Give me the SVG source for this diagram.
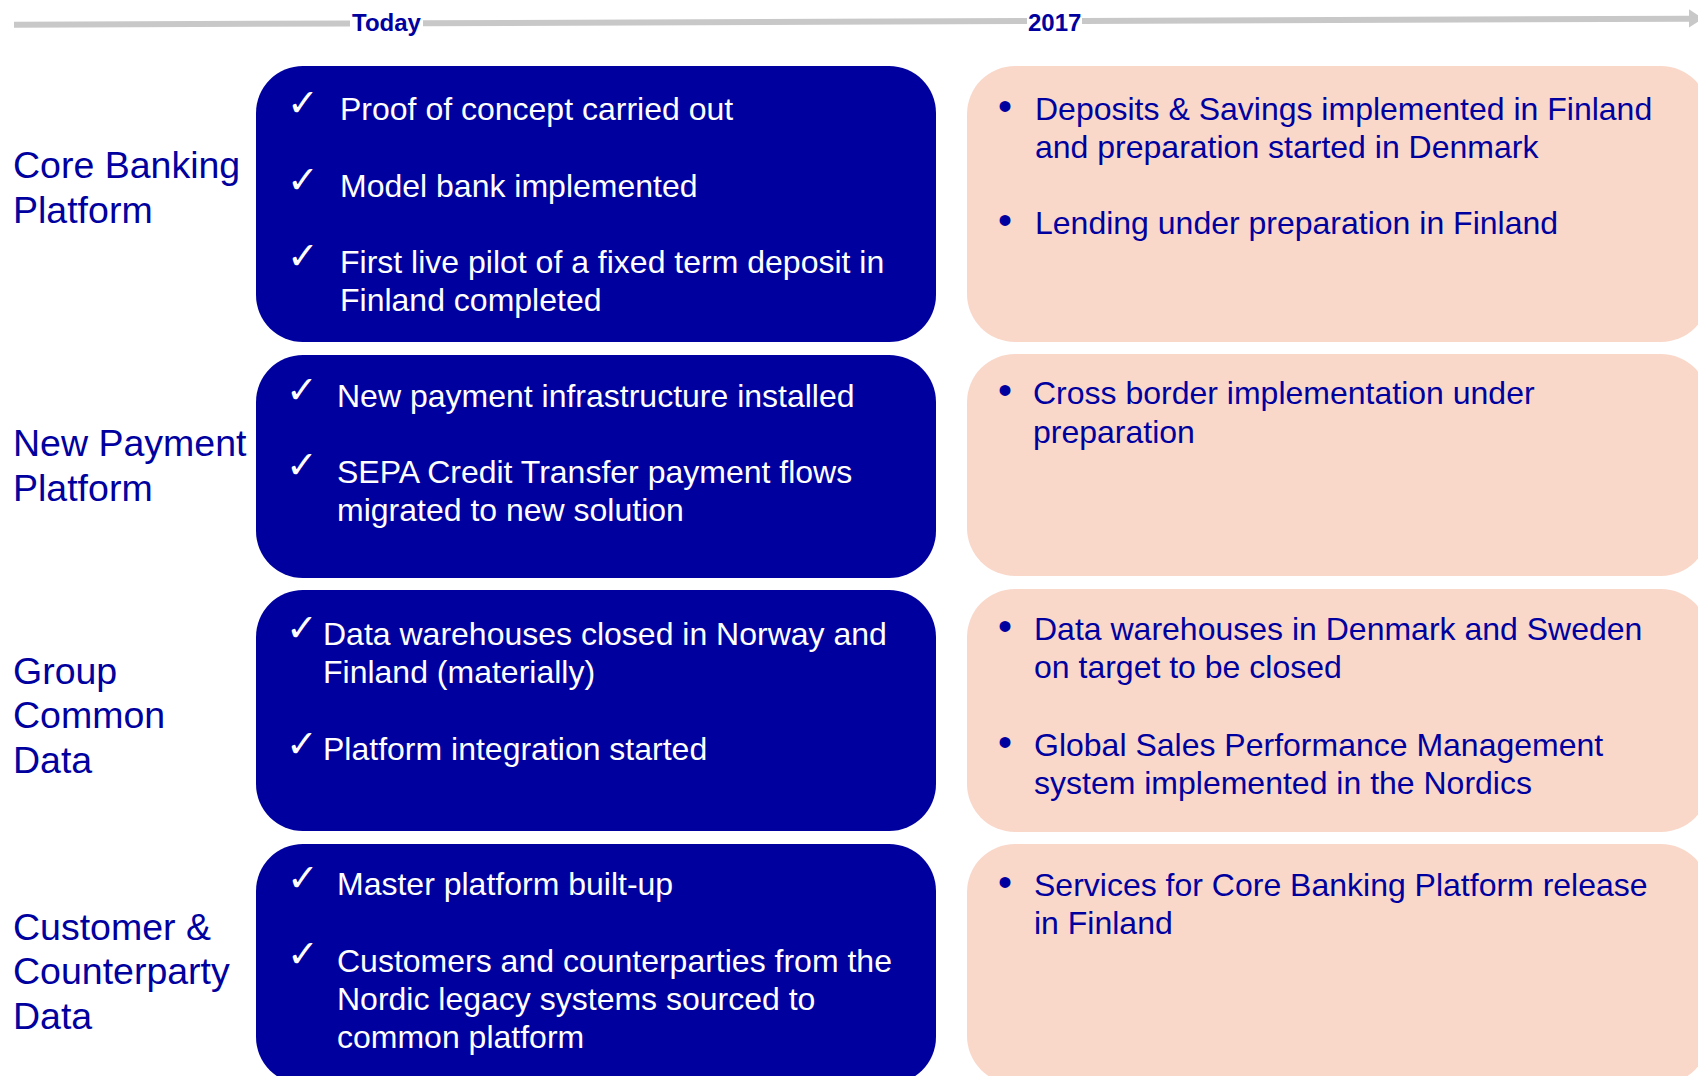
<svg xmlns="http://www.w3.org/2000/svg" width="1698" height="1076" viewBox="0 0 1698 1076">
<style>
  .lbl { font-family: "Liberation Sans", Arial, sans-serif; font-size: 37.5px; fill: #00009F; }
  .wt { font-family: "Liberation Sans", Arial, sans-serif; font-size: 32px; fill: #FFFFFF; }
  .bt { font-family: "Liberation Sans", Arial, sans-serif; font-size: 32px; fill: #00009F; }
  .chk { font-family: "DejaVu Sans", sans-serif; font-size: 38px; fill: #FFFFFF; text-anchor: middle; }
  .bul { font-family: "Liberation Sans", Arial, sans-serif; font-size: 40px; fill: #00009F; text-anchor: middle; }
  .tl { font-family: "Liberation Sans", Arial, sans-serif; font-size: 24px; font-weight: bold; fill: #00009F; }
  .blue { fill: #00009F; }
  .peach { fill: #F9D8CA; }
  .axis { stroke: #C8C8C8; stroke-width: 6; fill: none; }
</style>
<rect width="1698" height="1076" fill="#FFFFFF"/>

<g id="timeline">
  <line class="axis" x1="14" y1="24.7" x2="350" y2="23.5"/>
  <line class="axis" x1="423" y1="23.24" x2="1027" y2="21.07"/>
  <line class="axis" x1="1082" y1="20.88" x2="1690" y2="18.7"/>
  <polygon points="1689,9.3 1703,18.4 1689,27.5" fill="#C8C8C8"/>
  <text class="tl" x="352" y="31">Today</text>
  <text class="tl" x="1028" y="31">2017</text>
</g>

<g id="label-core-banking">
  <text class="lbl" x="13" y="178">Core Banking</text>
  <text class="lbl" x="13" y="222.5">Platform</text>
</g>
<g id="label-new-payment">
  <text class="lbl" x="13" y="456">New Payment</text>
  <text class="lbl" x="13" y="500.5">Platform</text>
</g>
<g id="label-group-common">
  <text class="lbl" x="13" y="683.5">Group</text>
  <text class="lbl" x="13" y="728">Common</text>
  <text class="lbl" x="13" y="772.5">Data</text>
</g>
<g id="label-customer">
  <text class="lbl" x="13" y="940">Customer &amp;</text>
  <text class="lbl" x="13" y="984">Counterparty</text>
  <text class="lbl" x="13" y="1028.5">Data</text>
</g>

<g id="today-core-banking">
  <rect class="blue" x="256" y="66" width="680" height="276" rx="47" ry="47"/>
  <text class="chk" x="303" y="116">✓</text>
  <text class="wt" x="340" y="120">Proof of concept carried out</text>
  <text class="chk" x="303" y="192.5">✓</text>
  <text class="wt" x="340" y="196.7">Model bank implemented</text>
  <text class="chk" x="303" y="269">✓</text>
  <text class="wt" x="340" y="273.3">First live pilot of a fixed term deposit in</text>
  <text class="wt" x="340" y="310.7">Finland completed</text>
</g>
<g id="today-new-payment">
  <rect class="blue" x="256" y="355" width="680" height="223" rx="47" ry="47"/>
  <text class="chk" x="302" y="403">✓</text>
  <text class="wt" x="337" y="407.3">New payment infrastructure installed</text>
  <text class="chk" x="302" y="478">✓</text>
  <text class="wt" x="337" y="482.7">SEPA Credit Transfer payment flows</text>
  <text class="wt" x="337" y="520.7">migrated to new solution</text>
</g>
<g id="today-group-common">
  <rect class="blue" x="256" y="590" width="680" height="241" rx="47" ry="47"/>
  <text class="chk" x="302" y="641">✓</text>
  <text class="wt" x="323" y="645">Data warehouses closed in Norway and</text>
  <text class="wt" x="323" y="683.3">Finland (materially)</text>
  <text class="chk" x="302" y="757">✓</text>
  <text class="wt" x="323" y="760">Platform integration started</text>
</g>
<g id="today-customer">
  <rect class="blue" x="256" y="844" width="680" height="240" rx="47" ry="47"/>
  <text class="chk" x="303" y="891">✓</text>
  <text class="wt" x="337" y="895">Master platform built-up</text>
  <text class="chk" x="303" y="967">✓</text>
  <text class="wt" x="337" y="971.7">Customers and counterparties from the</text>
  <text class="wt" x="337" y="1010">Nordic legacy systems sourced to</text>
  <text class="wt" x="337" y="1048.3">common platform</text>
</g>

<g id="2017-core-banking">
  <rect class="peach" x="967" y="66" width="742" height="276" rx="48" ry="48"/>
  <text class="bul" x="1005" y="120">•</text>
  <text class="bt" x="1035" y="120">Deposits &amp; Savings implemented in Finland</text>
  <text class="bt" x="1035" y="158.3">and preparation started in Denmark</text>
  <text class="bul" x="1005" y="234">•</text>
  <text class="bt" x="1035" y="234">Lending under preparation in Finland</text>
</g>
<g id="2017-new-payment">
  <rect class="peach" x="967" y="354" width="742" height="222" rx="48" ry="48"/>
  <text class="bul" x="1005" y="404">•</text>
  <text class="bt" x="1033" y="404">Cross border implementation under</text>
  <text class="bt" x="1033" y="442.7">preparation</text>
</g>
<g id="2017-group-common">
  <rect class="peach" x="967" y="589" width="742" height="243" rx="48" ry="48"/>
  <text class="bul" x="1005" y="640">•</text>
  <text class="bt" x="1034" y="640">Data warehouses in Denmark and Sweden</text>
  <text class="bt" x="1034" y="678.3">on target to be closed</text>
  <text class="bul" x="1005" y="756">•</text>
  <text class="bt" x="1034" y="756">Global Sales Performance Management</text>
  <text class="bt" x="1034" y="794">system implemented in the Nordics</text>
</g>
<g id="2017-customer">
  <rect class="peach" x="967" y="844" width="742" height="240" rx="48" ry="48"/>
  <text class="bul" x="1005" y="896">•</text>
  <text class="bt" x="1034" y="896">Services for Core Banking Platform release</text>
  <text class="bt" x="1034" y="934">in Finland</text>
</g>
</svg>
